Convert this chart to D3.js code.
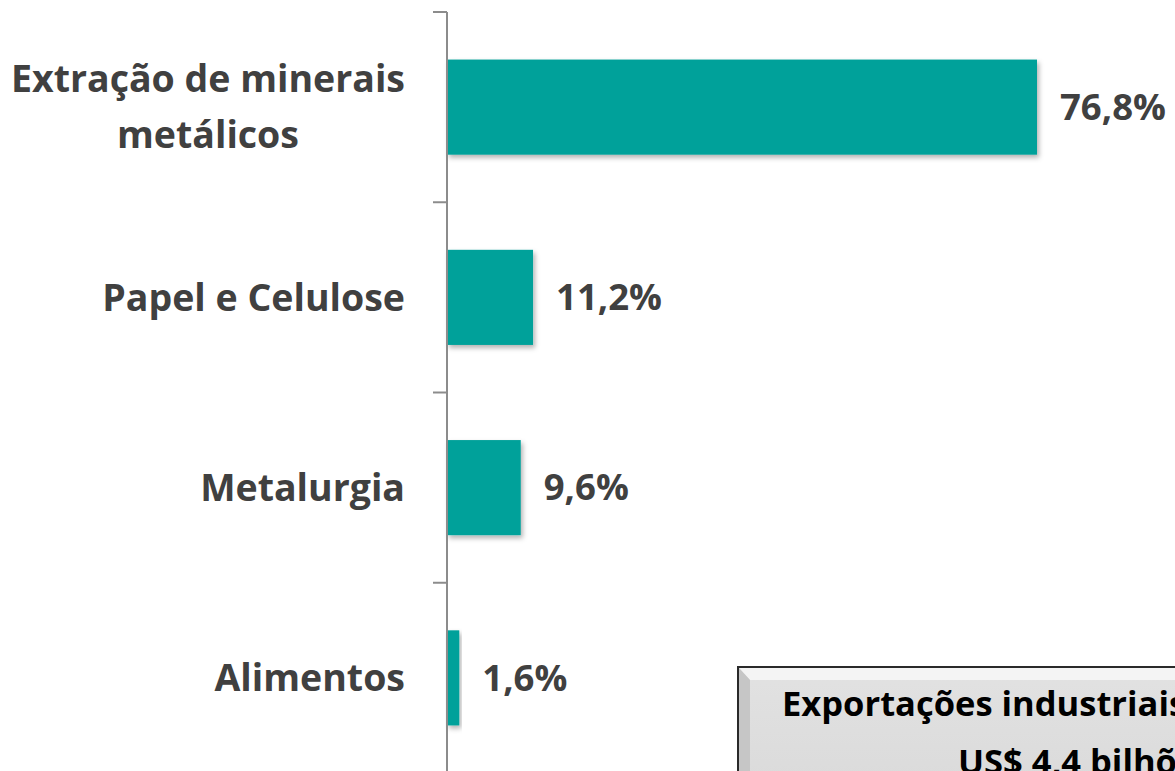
<!DOCTYPE html>
<html>
<head>
<meta charset="utf-8">
<script src="https://cdn.jsdelivr.net/npm/d3@7"></script>
<style>
  body { margin: 0; background: #fff; }
  svg { display: block; }
</style>
</head>
<body>
<div class="chart"></div>
<script>
var width = 1175;
var height = 771;

var categories = ['Extração de minerais\nmetálicos', 'Papel e Celulose', 'Metalurgia', 'Alimentos'];
var values = [76.8, 11.2, 9.6, 1.6];
var valueLabels = ['76,8%', '11,2%', '9,6%', '1,6%'];
var boxLines = ['Exportações industriais', 'US$ 4,4 bilhões'];

var axisX = 447;

var y = d3.scaleBand()
  .domain(categories)
  .range([12, 773])
  .paddingInner(0.5)
  .paddingOuter(0.25);

var x = d3.scaleLinear()
  .domain([0, 76.8])
  .range([axisX, 1037]);

var svg = d3.select('.chart').append('svg')
  .attr('width', width)
  .attr('height', height)
  .style('font-family', '"Open Sans", Lato, sans-serif');

var defs = svg.append('defs');

var shadow = defs.append('filter').attr('id', 'shadow')
  .attr('x', '-10%').attr('y', '-10%').attr('width', '130%').attr('height', '140%');
shadow.append('feDropShadow')
  .attr('dx', 2).attr('dy', 3).attr('stdDeviation', 2.5)
  .attr('flood-color', '#000').attr('flood-opacity', 0.3);

var grad = defs.append('linearGradient').attr('id', 'boxfill')
  .attr('x1', 0).attr('y1', 0).attr('x2', 0).attr('y2', 1);
grad.append('stop').attr('offset', '0%').attr('stop-color', '#e2e2e2');
grad.append('stop').attr('offset', '100%').attr('stop-color', '#d8d8d8');

// bars
svg.selectAll('rect.bar')
  .data(categories)
  .enter().append('rect')
    .attr('class', 'bar')
    .attr('x', axisX)
    .attr('y', d => y(d))
    .attr('width', (d, i) => x(values[i]) - axisX)
    .attr('height', y.bandwidth())
    .attr('fill', '#00a19a')
    .attr('filter', 'url(#shadow)');

// axis line + ticks on band boundaries
var step = y.step();
var tickYs = categories.map(d => y(d) - step * y.paddingInner() / 2);
tickYs.push(y(categories[categories.length - 1]) + y.bandwidth() + step * y.paddingInner() / 2);

svg.append('line')
  .attr('x1', axisX).attr('x2', axisX)
  .attr('y1', tickYs[0]).attr('y2', height)
  .attr('stroke', '#8c8c8c').attr('stroke-width', 2);

svg.selectAll('line.tick')
  .data(tickYs)
  .enter().append('line')
    .attr('class', 'tick')
    .attr('x1', axisX - 14).attr('x2', axisX)
    .attr('y1', d => d).attr('y2', d => d)
    .attr('stroke', '#8c8c8c').attr('stroke-width', 2);

// category labels
var catText = svg.selectAll('text.cat')
  .data(categories)
  .enter().append('text')
    .attr('class', 'cat')
    .attr('text-anchor', 'middle')
    .attr('fill', '#404040')
    .style('font-size', '37.5px')
    .style('font-weight', 'bold');

catText.each(function(d) {
  var lines = d.split('\n');
  var cy = y(d) + y.bandwidth() / 2;
  var lh = 56;
  var t = d3.select(this);
  lines.forEach(function(l, i) {
    t.append('tspan')
      .attr('y', cy + (i - (lines.length - 1) / 2) * lh)
      .attr('dy', '0.35em')
      .text(l);
  });
  // right edge of widest line at x=405, shorter lines centred on it
  var widths = [];
  t.selectAll('tspan').each(function() { widths.push(this.getComputedTextLength()); });
  var maxW = d3.max(widths);
  t.selectAll('tspan').attr('x', 405 - maxW / 2);
});

// value labels
svg.selectAll('text.val')
  .data(categories)
  .enter().append('text')
    .attr('class', 'val')
    .attr('x', (d, i) => x(values[i]) + 23)
    .attr('y', d => y(d) + y.bandwidth() / 2)
    .attr('dy', '0.35em')
    .attr('fill', '#404040')
    .style('font-size', '36.5px')
    .style('font-weight', 'bold')
    .text((d, i) => valueLabels[i]);

// info box (bottom right, partly cut off)
var box = svg.append('g');
box.append('rect')
  .attr('x', 738).attr('y', 667)
  .attr('width', 520).attr('height', 160)
  .attr('fill', 'url(#boxfill)')
  .attr('stroke', '#2a2a2a').attr('stroke-width', 2);
box.append('path')
  .attr('d', 'M739,668 L750,680 L1175,680 L1175,668 Z')
  .attr('fill', '#f4f4f4');
box.append('path')
  .attr('d', 'M739,668 L750,680 L750,771 L739,771 Z')
  .attr('fill', '#c6c6c6');

box.selectAll('text')
  .data(boxLines)
  .enter().append('text')
    .attr('x', (d, i) => i === 0 ? 782 : 958)
    .attr('y', (d, i) => 716 + i * 58)
    .attr('fill', '#000')
    .style('font-size', '34.5px')
    .style('font-weight', 'bold')
    .text(d => d);
</script>
</body>
</html>
